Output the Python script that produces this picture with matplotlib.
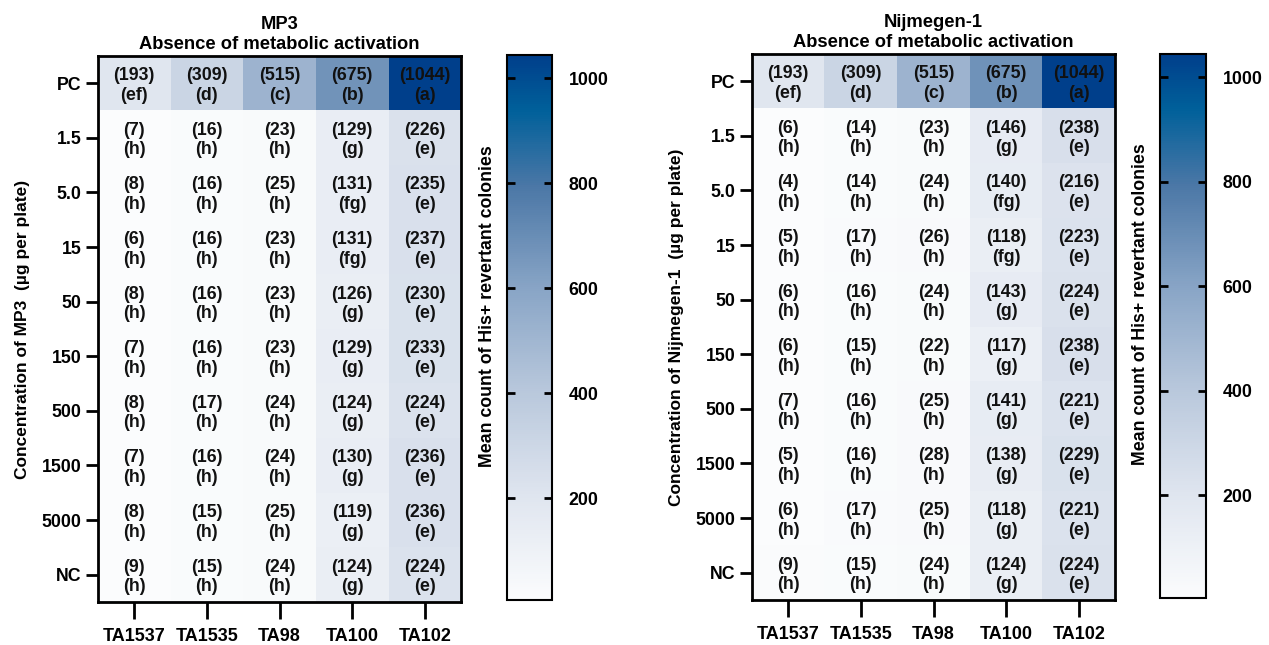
import numpy as np
import matplotlib
matplotlib.use("Agg")
import matplotlib.pyplot as plt
from matplotlib.colors import LinearSegmentedColormap

plt.rcParams['font.family'] = ['Liberation Sans', 'DejaVu Sans']
plt.rcParams['font.weight'] = 'bold'

strains = ["TA1537", "TA1535", "TA98", "TA100", "TA102"]
concentrations = ["PC", "1.5", "5.0", "15", "50", "150", "500", "1500", "5000", "NC"]

mp3_counts = [
    [193, 309, 515, 675, 1044],
    [7, 16, 23, 129, 226],
    [8, 16, 25, 131, 235],
    [6, 16, 23, 131, 237],
    [8, 16, 23, 126, 230],
    [7, 16, 23, 129, 233],
    [8, 17, 24, 124, 224],
    [7, 16, 24, 130, 236],
    [8, 15, 25, 119, 236],
    [9, 15, 24, 124, 224],
]
mp3_letters = [
    ["ef", "d", "c", "b", "a"],
    ["h", "h", "h", "g", "e"],
    ["h", "h", "h", "fg", "e"],
    ["h", "h", "h", "fg", "e"],
    ["h", "h", "h", "g", "e"],
    ["h", "h", "h", "g", "e"],
    ["h", "h", "h", "g", "e"],
    ["h", "h", "h", "g", "e"],
    ["h", "h", "h", "g", "e"],
    ["h", "h", "h", "g", "e"],
]
nij_counts = [
    [193, 309, 515, 675, 1044],
    [6, 14, 23, 146, 238],
    [4, 14, 24, 140, 216],
    [5, 17, 26, 118, 223],
    [6, 16, 24, 143, 224],
    [6, 15, 22, 117, 238],
    [7, 16, 25, 141, 221],
    [5, 16, 28, 138, 229],
    [6, 17, 25, 118, 221],
    [9, 15, 24, 124, 224],
]
nij_letters = [
    ["ef", "d", "c", "b", "a"],
    ["h", "h", "h", "g", "e"],
    ["h", "h", "h", "fg", "e"],
    ["h", "h", "h", "fg", "e"],
    ["h", "h", "h", "g", "e"],
    ["h", "h", "h", "g", "e"],
    ["h", "h", "h", "g", "e"],
    ["h", "h", "h", "g", "e"],
    ["h", "h", "h", "g", "e"],
    ["h", "h", "h", "g", "e"],
]
cbar_ticks = [200, 400, 600, 800, 1000]

cmap = LinearSegmentedColormap.from_list("bluesish", [
    (0.0, "#fbfcfd"),
    (0.19, "#dfe5ef"),
    (0.38, "#b9c8dc"),
    (0.57, "#89a5c6"),
    (0.76, "#4b77a6"),
    (0.90, "#00609a"),
    (1.0, "#003f8b"),
])

fig = plt.figure(figsize=(12.69, 6.45), dpi=100)
W, H = 1269, 645

def px_axes(x0, y0, x1, y1):
    return fig.add_axes([x0 / W, 1 - y1 / H, (x1 - x0) / W, (y1 - y0) / H])

panels = [
    ("MP3", mp3_counts, mp3_letters, (98, 56, 461, 602), (507, 55, 552, 600), "Concentration of MP3  (µg per plate)"),
    ("Nijmegen-1", nij_counts, nij_letters, (752, 54, 1115, 600), (1160, 54, 1206, 598), "Concentration of Nijmegen-1  (µg per plate)"),
]

for name, counts, letters, hbox, cbox, ylabel in panels:
    data = np.array(counts, dtype=float)
    vmin, vmax = data.min(), data.max()
    ax = px_axes(*hbox)
    im = ax.imshow(data, cmap=cmap, vmin=vmin, vmax=vmax, aspect='auto', interpolation='nearest')
    for i in range(data.shape[0]):
        for j in range(data.shape[1]):
            ax.text(j, i + 0.04, f"({counts[i][j]})\n({letters[i][j]})", ha='center', va='center',
                    fontsize=12.8, fontweight='bold', color='#111111', linespacing=1.2)
    ax.set_xticks(range(len(strains)))
    ax.set_xticklabels(strains, fontsize=13, fontweight='bold')
    ax.set_yticks(range(len(concentrations)))
    ax.set_yticklabels(concentrations, fontsize=12.8, fontweight='bold')
    ax.tick_params(axis='x', length=12, width=2, pad=7)
    ax.tick_params(axis='y', length=9, width=2, pad=3)
    for s in ax.spines.values():
        s.set_linewidth(2)
    ax.set_ylabel(ylabel, fontsize=12.5, fontweight='bold', labelpad=8)
    ax.set_title(f"{name}\nAbsence of metabolic activation", fontsize=13.2, fontweight='bold', pad=5, linespacing=1.25)

    cax = px_axes(*cbox)
    cb = fig.colorbar(im, cax=cax)
    cb.set_ticks(cbar_ticks)
    cb.ax.tick_params(axis='y', direction='in', left=True, right=True, length=6, width=2, labelsize=12.8, pad=12)
    for lab in cb.ax.get_yticklabels():
        lab.set_fontweight('bold')
    cb.outline.set_linewidth(1.5)
    cb.ax.yaxis.set_label_position('left')
    cb.set_label("Mean count of His+ revertant colonies", fontsize=12.8, fontweight='bold')
    cb.ax.yaxis.set_label_coords(-0.24, 0.54)

fig.savefig("out.png", dpi=100)
